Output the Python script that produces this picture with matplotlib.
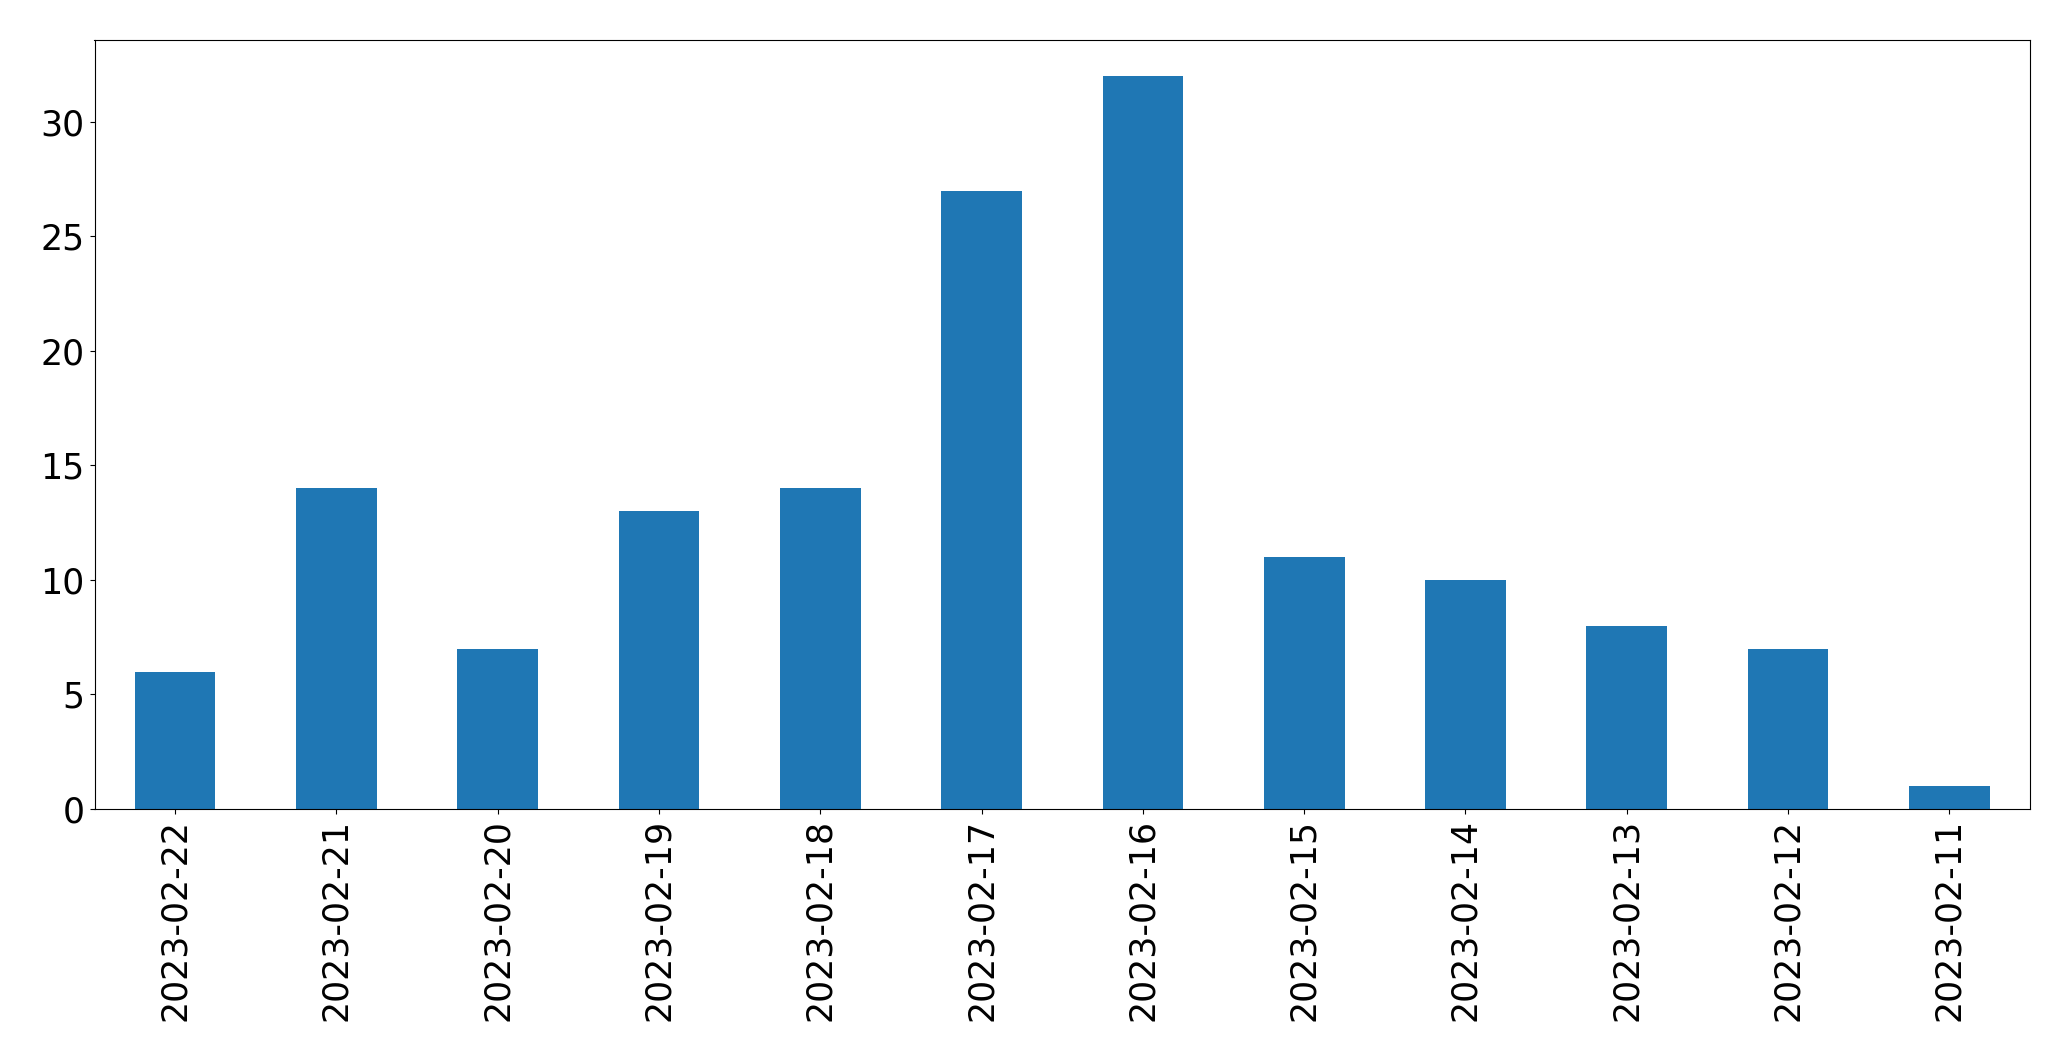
import matplotlib
matplotlib.use("Agg")
import matplotlib.pyplot as plt
import pandas as pd

dates = ["2023-02-22", "2023-02-21", "2023-02-20", "2023-02-19",
         "2023-02-18", "2023-02-17", "2023-02-16", "2023-02-15",
         "2023-02-14", "2023-02-13", "2023-02-12", "2023-02-11"]
counts = [6, 14, 7, 13, 14, 27, 32, 11, 10, 8, 7, 1]

s = pd.Series(counts, index=dates)

fig = plt.figure(figsize=(20.71, 10.61), dpi=100)
ax = fig.add_axes([94.5 / 2071, 1 - 809 / 1061, (2030 - 94.5) / 2071, (809 - 39.5) / 1061])
s.plot(kind="bar", ax=ax, color="#1f77b4", fontsize=25)
ax.tick_params(labelsize=25)

fig.savefig("out.png", dpi=100)
